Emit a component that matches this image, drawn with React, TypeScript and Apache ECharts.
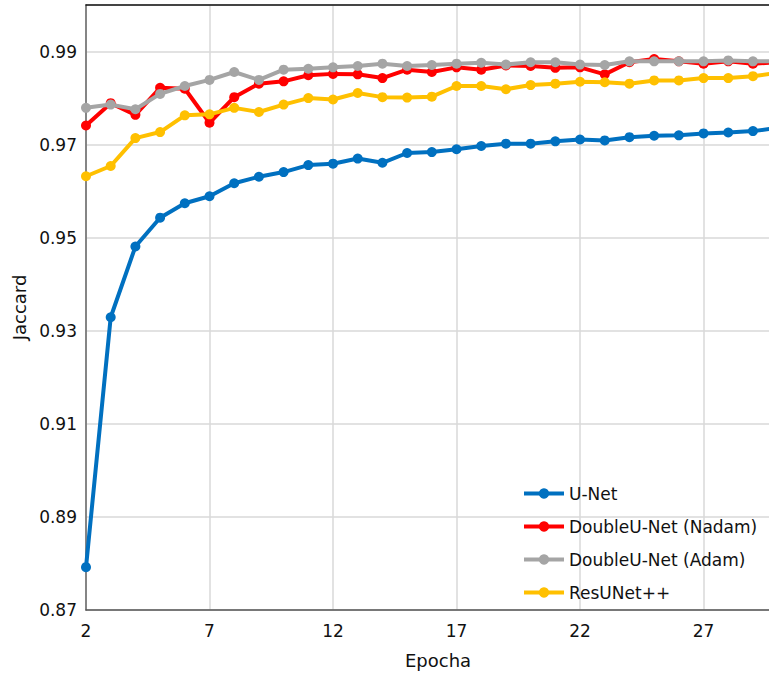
import React, { useEffect, useRef } from "react";
import * as echarts from "echarts";

const epochs = [2, 3, 4, 5, 6, 7, 8, 9, 10, 11, 12, 13, 14, 15, 16, 17, 18, 19, 20, 21, 22, 23, 24, 25, 26, 27, 28, 29, 30];

const unet = [
  0.8792, 0.9329, 0.9481, 0.9543, 0.9574, 0.9589, 0.9617, 0.9631, 0.9641, 0.9656,
  0.9659, 0.967, 0.9661, 0.9682, 0.9684, 0.969, 0.9697, 0.9702, 0.9702, 0.9707,
  0.9711, 0.9709, 0.9716, 0.9719, 0.972, 0.9724, 0.9726, 0.9729, 0.9736,
];

const doubleNadam = [
  0.9741, 0.9789, 0.9764, 0.9822, 0.982, 0.9747, 0.9802, 0.9831, 0.9836, 0.9849,
  0.9852, 0.9851, 0.9843, 0.9861, 0.9856, 0.9866, 0.9861, 0.987, 0.9869, 0.9865,
  0.9866, 0.9851, 0.9877, 0.9884, 0.9879, 0.9874, 0.9879, 0.9874, 0.9877,
];

const doubleAdam = [
  0.9779, 0.9786, 0.9776, 0.9809, 0.9826, 0.9839, 0.9856, 0.9839, 0.9861, 0.9863,
  0.9866, 0.9869, 0.9874, 0.9869, 0.9871, 0.9874, 0.9876, 0.9872, 0.9877, 0.9877,
  0.9872, 0.9871, 0.9879, 0.9879, 0.9879, 0.9879, 0.9881, 0.9879, 0.9879,
];

const resunet = [
  0.9632, 0.9654, 0.9714, 0.9727, 0.9763, 0.9765, 0.9779, 0.977, 0.9786, 0.98,
  0.9797, 0.9811, 0.9802, 0.9801, 0.9803, 0.9826, 0.9826, 0.9819, 0.9828, 0.9831,
  0.9835, 0.9834, 0.9831, 0.9838, 0.9838, 0.9843, 0.9843, 0.9847, 0.9854,
];

const seriesNames = ["U-Net", "DoubleU-Net (Nadam)", "DoubleU-Net (Adam)", "ResUNet++"];
const seriesColors = ["#0070C0", "#FF0000", "#A5A5A5", "#FFC000"];
const seriesValues = [unet, doubleNadam, doubleAdam, resunet];

const FONT = "DejaVu Sans";

export default function App() {
  const ref = useRef<HTMLDivElement>(null);

  useEffect(() => {
    if (!ref.current) return;
    const chart = echarts.init(ref.current, null, { renderer: "svg" });
    const option: any = {
      animation: false,
      backgroundColor: "#ffffff",
      textStyle: { fontFamily: FONT },
      grid: { left: 86, top: 5, bottom: 63, right: 0, containLabel: false },
      legend: {
        orient: "vertical",
        left: 522,
        top: 485,
        padding: 0,
        itemWidth: 40,
        itemHeight: 13,
        itemGap: 16,
        lineStyle: { width: 4 },
        textStyle: { fontFamily: FONT, fontSize: 17, color: "#111" },
        data: seriesNames,
      },
      xAxis: [
        {
          type: "value",
          min: 2,
          max: 30.5,
          interval: 5,
          name: "Epocha",
          nameLocation: "middle",
          nameGap: 41,
          nameTextStyle: { fontFamily: FONT, fontSize: 18, color: "#111" },
          axisLine: { show: true, lineStyle: { color: "#555", width: 1.5 } },
          axisTick: { show: false },
          axisLabel: {
            fontFamily: FONT,
            fontSize: 17,
            color: "#111",
            margin: 12,
            formatter: (v: number) => (Math.abs((v - 2) % 5) < 1e-6 ? String(v) : ""),
          },
          splitLine: { show: true, lineStyle: { color: "#D9D9D9", width: 1.5 } },
        },
        {
          type: "value",
          position: "top",
          min: 2,
          max: 30.5,
          interval: 5,
          axisLine: { show: true, onZero: false, lineStyle: { color: "#111", width: 1.5 } },
          axisTick: { show: false },
          axisLabel: { show: false },
          splitLine: { show: false },
        },
      ],
      yAxis: {
        type: "value",
        min: 0.87,
        max: 1.0,
        interval: 0.02,
        name: "Jaccard",
        nameLocation: "middle",
        nameRotate: 90,
        nameGap: 55,
        nameTextStyle: { fontFamily: FONT, fontSize: 18, color: "#111" },
        axisLine: { show: true, lineStyle: { color: "#666", width: 1.5 } },
        axisTick: { show: false },
        axisLabel: {
          fontFamily: FONT,
          fontSize: 17,
          color: "#111",
          margin: 9,
          formatter: (v: number) => (v > 0.995 ? "" : v.toFixed(2)),
        },
        splitLine: { show: true, lineStyle: { color: "#D9D9D9", width: 1.5 } },
      },
      series: seriesNames.map((name, i) => ({
        name,
        type: "line",
        xAxisIndex: 0,
        data: epochs.map((e, j) => [e, seriesValues[i][j]]),
        symbol: "circle",
        symbolSize: 10,
        showSymbol: true,
        lineStyle: { color: seriesColors[i], width: 4 },
        itemStyle: { color: seriesColors[i] },
        emphasis: { disabled: true },
        z: 2 + i,
      })),
    };
    chart.setOption(option);
    return () => chart.dispose();
  }, []);

  return (
    <div
      style={{
        position: "fixed",
        left: 0,
        top: 0,
        width: 769,
        height: 674,
        overflow: "hidden",
        background: "#fff",
      }}
    >
      <div ref={ref} style={{ width: 793, height: 674 }} />
    </div>
  );
}
